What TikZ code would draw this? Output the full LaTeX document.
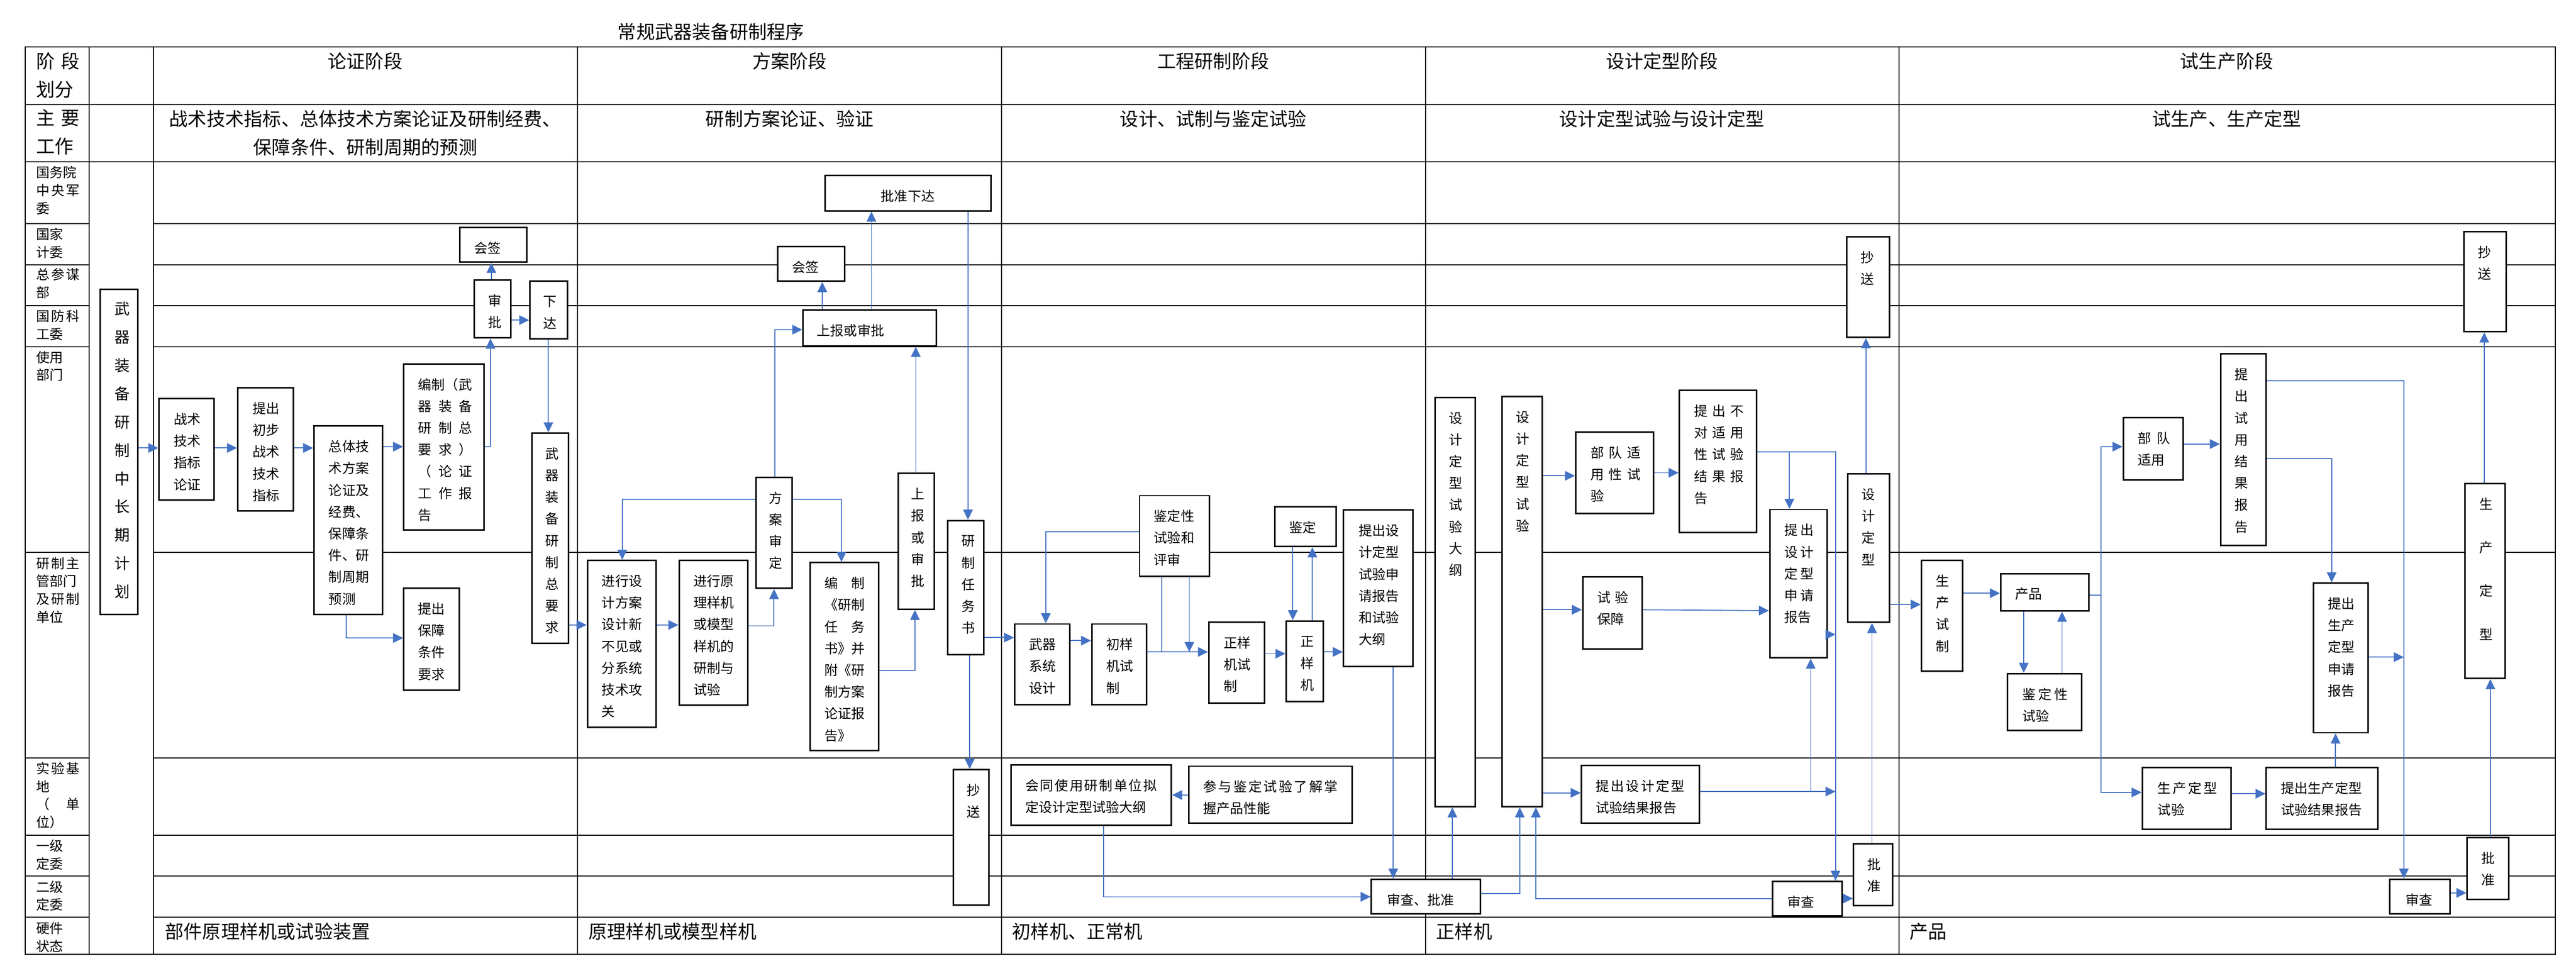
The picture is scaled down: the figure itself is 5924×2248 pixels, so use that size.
\documentclass[tikz,border=0pt]{standalone}
\usepackage{fontspec}
\setmainfont{Noto Sans CJK SC}
\usetikzlibrary{arrows.meta}

\definecolor{flowblue}{RGB}{68,114,196}

\newdimen\unitpx
\unitpx=0.01cm
\newcommand{\headfont}{\fontsize{12.2}{18.5}\selectfont}
\newcommand{\boxfont}{\fontsize{8.8}{14.2}\selectfont}
\newcommand{\labfont}{\fontsize{8.8}{11.7}\selectfont}
\newcommand{\bigboxfont}{\fontsize{10}{18.5}\selectfont}
% text of a box: [line pitch]{width}{height}{left pad}{lines}
\newcommand{\tbox}[5][50]{%
  \parbox[t][#3\unitpx][t]{#2\unitpx}{%
    \leftskip=#4\unitpx\relax
    \rightskip=0pt plus 1fil\relax
    \baselineskip=#1\unitpx\relax
    \lineskiplimit=-\maxdimen
    \rule{0pt}{59\unitpx}#5}}
% spread line
\newcommand{\jl}[2]{\makebox[#1\unitpx][s]{#2}}

\begin{document}
\begin{tikzpicture}[x = 0.01cm, y = -0.01cm,
    tabline/.style = {line width = 0.7pt},
    taskbox/.style = {draw, fill = white, line width = 1pt, inner sep = 0pt, anchor = north west, font = \boxfont},
    lab/.style = {align = left, inner sep = 0pt, anchor = west, font = \labfont},
    head/.style = {inner sep = 0pt, font = \headfont},
    flow/.style = {draw = flowblue, line width = 0.6pt, -{Triangle[length = 0.23cm, width = 0.22cm]}},
    flowline/.style = {draw = flowblue, line width = 0.6pt}]
    \useasboundingbox (0,0) rectangle (5924,2248);

    % Table
    \draw [tabline] (58,108) rectangle (5876,2194);
    \draw [tabline] (205,108) -- (205,2194);
    \draw [tabline] (353,108) -- (353,2194);
    \draw [tabline] (1328,108) -- (1328,2194);
    \draw [tabline] (2303,108) -- (2303,2194);
    \draw [tabline] (3278,108) -- (3278,2194);
    \draw [tabline] (4367,108) -- (4367,2194);
    \draw [tabline] (58,240) -- (5876,240);
    \draw [tabline] (58,372) -- (5876,372);
    \draw [tabline] (58,514) -- (205,514);   \draw [tabline] (353,514) -- (5876,514);
    \draw [tabline] (58,609) -- (205,609);   \draw [tabline] (353,609) -- (5876,609);
    \draw [tabline] (58,703) -- (205,703);   \draw [tabline] (353,703) -- (5876,703);
    \draw [tabline] (58,797) -- (205,797);   \draw [tabline] (353,797) -- (5876,797);
    \draw [tabline] (58,1270) -- (205,1270); \draw [tabline] (353,1270) -- (5876,1270);
    \draw [tabline] (58,1743) -- (205,1743); \draw [tabline] (353,1743) -- (5876,1743);
    \draw [tabline] (58,1920) -- (205,1920); \draw [tabline] (353,1920) -- (5876,1920);
    \draw [tabline] (58,2014) -- (205,2014); \draw [tabline] (353,2014) -- (5876,2014);
    \draw [tabline] (58,2109) -- (205,2109); \draw [tabline] (353,2109) -- (5876,2109);

    % Title and phases
    \node[head] (title) at (1635,73) {常规武器装备研制程序};
    \node[head] (p1) at (840,141) {论证阶段};
    \node[head] (p2) at (1816,141) {方案阶段};
    \node[head] (p3) at (2790,141) {工程研制阶段};
    \node[head] (p4) at (3822,141) {设计定型阶段};
    \node[head] (p5) at (5121,141) {试生产阶段};
    \node[head, align = center] (w1) at (840,306) {战术技术指标、总体技术方案论证及研制经费、\\保障条件、研制周期的预测};
    \node[head] (w2) at (1816,273) {研制方案论证、验证};
    \node[head] (w3) at (2790,273) {设计、试制与鉴定试验};
    \node[head] (w4) at (3822,273) {设计定型试验与设计定型};
    \node[head] (w5) at (5121,273) {试生产、生产定型};

    % Row names
    \node[lab, font = \headfont] (lstage) at (83,173) {\jl{100}{阶\hfill 段}\\划分};
    \node[lab, font = \headfont] (lwork) at (83,304) {\jl{100}{主\hfill 要}\\工作};
    \node[lab] (lgov) at (83,438) {国务院\\\jl{100}{中\hfill 央\hfill 军}\\委};
    \node[lab] (lplan) at (83,559) {国家\\计委};
    \node[lab] (lstaff) at (83,652) {\jl{100}{总\hfill 参\hfill 谋}\\部};
    \node[lab] (lcost) at (83,748) {\jl{100}{国\hfill 防\hfill 科}\\工委};
    \node[lab] (luser) at (83,842) {使用\\部门};
    \node[lab] (ldev) at (83,1357) {\jl{100}{研\hfill 制\hfill 主}\\管部门\\\jl{100}{及\hfill 研\hfill 制}\\单位};
    \node[lab] (lbase) at (83,1829) {\jl{100}{实\hfill 验\hfill 基}\\地\\\jl{100}{（\hfill 单}\\位）};
    \node[lab] (lcom1) at (83,1966) {一级\\定委};
    \node[lab] (lcom2) at (83,2060) {二级\\定委};
    \node[lab] (lhw) at (83,2155) {硬件\\状态};

    % Hardware state
    \node[head, anchor = west] (hw1) at (379,2142) {部件原理样机或试验装置};
    \node[head, anchor = west] (hw2) at (1353,2142) {原理样机或模型样机};
    \node[head, anchor = west] (hw3) at (2327,2142) {初样机、正常机};
    \node[head, anchor = west] (hw4) at (3302,2142) {正样机};
    \node[head, anchor = west] (hw5) at (4391,2142) {产品};

    % Boxes: demonstration phase
    \node[taskbox, font = \bigboxfont] (jh) at (229,663) {\tbox[65]{86}{748}{33}{武\\器\\装\\备\\研\\制\\中\\长\\期\\计\\划}};
    \node[taskbox] (zs) at (364,915) {\tbox{126}{233}{34}{战术\\技术\\指标\\论证}};
    \node[taskbox] (tc) at (545,890) {\tbox{128}{283}{34}{提出\\初步\\战术\\技术\\指标}};
    \node[taskbox] (zt) at (720,978) {\tbox{158}{433}{34}{总体技\\术方案\\论证及\\经费、\\保障条\\件、研\\制周期\\预测}};
    \node[taskbox] (bz) at (927,835) {\tbox{184}{382}{33}{编制（武\\\jl{124}{器\hfill 装\hfill 备}\\\jl{124}{研\hfill 制\hfill 总}\\\jl{124}{要\hfill 求\hfill ）}\\\jl{124}{（\hfill 论\hfill 证}\\\jl{124}{工\hfill 作\hfill 报}\\告}};
    \node[taskbox] (sp) at (1089,642) {\tbox{84}{133}{32}{审\\批}};
    \node[taskbox] (hq1) at (1056,521) {\tbox{154}{80}{33}{会签}};
    \node[taskbox] (xd) at (1217,644) {\tbox{86}{133}{31}{下\\达}};
    \node[taskbox] (zy) at (1221,994) {\tbox{85}{483}{31}{武\\器\\装\\备\\研\\制\\总\\要\\求}};
    \node[taskbox] (bzyq) at (927,1351) {\tbox{128}{234}{33}{提出\\保障\\条件\\要求}};

    % Boxes: scheme phase
    \node[taskbox] (pz) at (1896,402) {\tbox{381}{81}{128}{批准下达}};
    \node[taskbox] (hq2) at (1787,565) {\tbox{154}{80}{33}{会签}};
    \node[taskbox] (sbh) at (1845,711) {\tbox{307}{83}{32}{上报或审批}};
    \node[taskbox] (fasd) at (1737,1096) {\tbox{83}{255}{30}{方\\案\\审\\定}};
    \node[taskbox] (jxsj) at (1349,1287) {\tbox{158}{383}{33}{进行设\\计方案\\设计新\\不见或\\分系统\\技术攻\\关}};
    \node[taskbox] (jxyl) at (1560,1287) {\tbox{158}{333}{33}{进行原\\理样机\\或模型\\样机的\\研制与\\试验}};
    \node[taskbox] (bzrw) at (1861,1292) {\tbox{158}{432}{33}{\jl{93}{编\hfill 制}\\《研制\\\jl{93}{任\hfill 务}\\书》并\\附《研\\制方案\\论证报\\告》}};
    \node[taskbox] (sbv) at (2064,1087) {\tbox{83}{312}{30}{上\\报\\或\\审\\批}};
    \node[taskbox] (rws) at (2178,1195) {\tbox{83}{309}{32}{研\\制\\任\\务\\书}};
    \node[taskbox] (cs1) at (2191,1768) {\tbox{82}{311}{31}{抄\\送}};

    % Boxes: engineering phase
    \node[taskbox] (wqxt) at (2332,1433) {\tbox{127}{185}{33}{武器\\系统\\设计}};
    \node[taskbox] (cysz) at (2509,1433) {\tbox{126}{185}{33}{初样\\机试\\制}};
    \node[taskbox] (jdps) at (2619,1138) {\tbox{160}{185}{33}{鉴定性\\试验和\\评审}};
    \node[taskbox] (hts) at (2323,1757) {\tbox{369}{139}{33}{\jl{303}{会\hfill 同\hfill 使\hfill 用\hfill 研\hfill 制\hfill 单\hfill 位\hfill 拟}\\定设计定型试验大纲}};
    \node[taskbox] (zyjs) at (2778,1429) {\tbox{128}{186}{35}{正样\\机试\\制}};
    \node[taskbox] (zyj) at (2956,1426) {\tbox{85}{185}{33}{正\\样\\机}};
    \node[taskbox] (jd) at (2930,1164) {\tbox{141}{91}{33}{鉴定}};
    \node[taskbox] (tcsq) at (3088,1171) {\tbox{159}{360}{35}{提出设\\计定型\\试验申\\请报告\\和试验\\大纲}};
    \node[taskbox] (cb) at (2732,1760) {\tbox{376}{131}{33}{\jl{310}{参\hfill 与\hfill 鉴\hfill 定\hfill 试\hfill 验\hfill 了\hfill 解\hfill 掌}\\握产品性能}};
    \node[taskbox] (scpz) at (3152,2020) {\tbox{251}{80}{36}{审查、批准}};

    % Boxes: design finalisation phase
    \node[taskbox] (dg) at (3299,912) {\tbox{92}{941}{31}{设\\计\\定\\型\\试\\验\\大\\纲}};
    \node[taskbox] (dsy) at (3452,910) {\tbox{93}{943}{32}{设\\计\\定\\型\\试\\验}};
    \node[taskbox] (bdsy) at (3622,992) {\tbox{179}{187}{34}{\jl{115}{部\hfill 队\hfill 适}\\\jl{115}{用\hfill 性\hfill 试}\\验}};
    \node[taskbox] (btc) at (3860,896) {\tbox{178}{327}{34}{\jl{114}{提\hfill 出\hfill 不}\\\jl{114}{对\hfill 适\hfill 用}\\\jl{114}{性\hfill 试\hfill 验}\\\jl{114}{结\hfill 果\hfill 报}\\告}};
    \node[taskbox] (sybz) at (3638,1325) {\tbox{137}{166}{34}{\jl{71}{试\hfill 验}\\保障}};
    \node[taskbox] (jgbg) at (3635,1758) {\tbox{271}{133}{33}{\jl{204}{提\hfill 出\hfill 设\hfill 计\hfill 定\hfill 型}\\试验结果报告}};
    \node[taskbox] (dxsq) at (4068,1170) {\tbox{132}{341}{34}{\jl{67}{提\hfill 出}\\\jl{67}{设\hfill 计}\\\jl{67}{定\hfill 型}\\\jl{67}{申\hfill 请}\\报告}};
    \node[taskbox] (dx) at (4248,1088) {\tbox{95}{341}{32}{设\\计\\定\\型}};
    \node[taskbox] (cs2) at (4245,543) {\tbox{98}{231}{32}{抄\\送}};
    \node[taskbox] (pz2) at (4261,1938) {\tbox{89}{143}{32}{批\\准}};
    \node[taskbox] (sc2) at (4074,2025) {\tbox{161}{79}{35}{审查}};

    % Boxes: trial production phase
    \node[taskbox] (scsz) at (4417,1287) {\tbox{95}{254}{33}{生\\产\\试\\制}};
    \node[taskbox] (cp) at (4599,1317) {\tbox{203}{86}{33}{产品}};
    \node[taskbox] (jdx) at (4615,1547) {\tbox{170}{131}{34}{\jl{105}{鉴\hfill 定\hfill 性}\\试验}};
    \node[taskbox] (bdsy2) at (4881,959) {\tbox{138}{143}{33}{\jl{75}{部\hfill 队}\\适用}};
    \node[taskbox] (syjg) at (5105,812) {\tbox{105}{440}{32}{提\\出\\试\\用\\结\\果\\报\\告}};
    \node[taskbox] (scdx) at (4925,1763) {\tbox{204}{142}{35}{\jl{137}{生\hfill 产\hfill 定\hfill 型}\\试验}};
    \node[taskbox] (scjg) at (5210,1763) {\tbox{257}{142}{34}{提出生产定型\\试验结果报告}};
    \node[taskbox] (scsq) at (5318,1339) {\tbox{126}{344}{34}{提出\\生产\\定型\\申请\\报告}};
    \node[taskbox] (sc3) at (5494,2020) {\tbox{139}{80}{36}{审查}};
    \node[taskbox] (pz3) at (5672,1924) {\tbox{95}{142}{33}{批\\准}};
    \node[taskbox] (scdx2) at (5667,1110) {\tbox[100]{92}{448}{33}{生\\产\\定\\型}};
    \node[taskbox] (cs3) at (5665,531) {\tbox{97}{230}{32}{抄\\送}};

    % Junctions on shared lines
    \coordinate (jn1) at (2672,1499);
    \coordinate (jn2) at (2735,1499);
    \coordinate (bus1) at (4221,1039);
    \coordinate (bus2) at (4221,1820);
    \coordinate (bus3) at (4221,1459);
    \coordinate (tap1) at (4164,1820);
    \coordinate (tap2) at (4115,1039);
    \coordinate (tap3) at (4832,1368);
    \coordinate (bus4) at (5528,1511);

    % Flow: demonstration phase
    \draw [flow] (jh.east |- 0,1030) -- (zs.west |- 0,1030);
    \draw [flow] (zs.east |- 0,1030) -- (tc.west |- 0,1030);
    \draw [flow] (tc.east |- 0,1030) -- (zt.west |- 0,1030);
    \draw [flow] (zt.east |- 0,1027) -- (bz.west |- 0,1027);
    \draw [flow] (bz.east |- 0,1027) -| (sp.south -| 1128,0);
    \draw [flow] (sp.north -| 1130,0) -- (hq1.south -| 1130,0);
    \draw [flow] (sp.east |- 0,736) -- (xd.west |- 0,736);
    \draw [flow] (xd.south -| 1261,0) -- (zy.north -| 1261,0);
    \draw [flow] (zt.south -| 796,0) |- (bzyq.west |- 0,1467);
    \draw [flow] (zy.east |- 0,1437) -- (jxsj.west |- 0,1437);

    % Flow: scheme phase
    \draw [flow] (jxsj.east |- 0,1437) -- (jxyl.west |- 0,1437);
    \draw [flow] (jxyl.east |- 0,1439) -| (fasd.south -| 1780,0);
    \draw [flow] (fasd.west |- 0,1148) -| (jxsj.north -| 1431,0);
    \draw [flow] (fasd.east |- 0,1148) -| (bzrw.north -| 1935,0);
    \draw [flow] (fasd.north -| 1782,0) |- (sbh.west |- 0,758);
    \draw [flow] (sbh.north -| 1891,0) -- (hq2.south -| 1891,0);
    \draw [flow] (sbh.north -| 2004,0) -- (pz.south -| 2004,0);
    \draw [flow] (sbv.north -| 2106,0) -- (sbh.south -| 2106,0);
    \draw [flow] (bzrw.east |- 0,1541) -| (sbv.south -| 2104,0);
    \draw [flow] (pz.south -| 2226,0) -- (rws.north -| 2226,0);
    \draw [flow] (rws.east |- 0,1466) -- (wqxt.west |- 0,1466);
    \draw [flow] (rws.south -| 2230,0) -- (cs1.north -| 2230,0);

    % Flow: engineering phase
    \draw [flow] (wqxt.east |- 0,1473) -- (cysz.west |- 0,1473);
    \draw [flow] (jdps.west |- 0,1223) -| (wqxt.north -| 2405,0);
    \draw [flow] (cysz.east |- 0,1499) -- (zyjs.west |- 0,1499);
    \draw [flowline] (jdps.south -| jn1) -- (jn1);
    \draw [flow] (jdps.south -| jn2) -- (jn2);
    \draw [flow] (zyjs.east |- 0,1503) -- (zyj.west |- 0,1503);
    \draw [flow] (jd.south -| 2973,0) -- (zyj.north -| 2973,0);
    \draw [flow] (zyj.north -| 3018,0) -- (jd.south -| 3018,0);
    \draw [flow] (zyj.east |- 0,1499) -- (tcsq.west |- 0,1499);
    \draw [flow] (tcsq.south -| 3204,0) -- (scpz.north -| 3204,0);
    \draw [flow] (cb.west |- 0,1828) -- (hts.east |- 0,1828);
    \draw [flow] (hts.south -| 2538,0) |- (scpz.west |- 0,2062);

    % Flow: design finalisation phase
    \draw [flow] (scpz.north -| 3340,0) -- (dg.south -| 3340,0);
    \draw [flow] (scpz.east |- 0,2054) -| (dsy.south -| 3495,0);
    \draw [flow] (sc2.west |- 0,2066) -| (dsy.south -| 3532,0);
    \draw [flow] (dsy.east |- 0,1094) -- (bdsy.west |- 0,1094);
    \draw [flow] (bdsy.east |- 0,1087) -- (btc.west |- 0,1087);
    \draw [flow] (dsy.east |- 0,1402) -- (sybz.west |- 0,1402);
    \draw [flow] (sybz.east |- 0,1402) -- (dxsq.west |- 0,1404);
    \draw [flow] (dsy.east |- 0,1823) -- (jgbg.west |- 0,1823);
    \draw [flow] (jgbg.east |- bus2) -- (bus2);
    \draw [flow] (tap1) -- (dxsq.south -| tap1);
    \draw [flow] (btc.east |- bus1) -- (bus1) -- (sc2.north -| bus1);
    \draw [flow] (tap2) -- (dxsq.north -| tap2);
    \draw [flow] (dxsq.east |- bus3) -- (bus3);
    \draw [flow] (sc2.east |- 0,2066) -- (pz2.west |- 0,2066);
    \draw [flow] (pz2.north -| 4305,0) -- (dx.south -| 4305,0);
    \draw [flow] (dx.north -| 4291,0) -- (cs2.south -| 4291,0);

    % Flow: trial production phase
    \draw [flow] (dx.east |- 0,1390) -- (scsz.west |- 0,1390);
    \draw [flow] (scsz.east |- 0,1364) -- (cp.west |- 0,1364);
    \draw [flow] (cp.south -| 4654,0) -- (jdx.north -| 4654,0);
    \draw [flow] (jdx.north -| 4742,0) -- (cp.south -| 4742,0);
    \draw [flowline] (cp.east |- tap3) -- (tap3);
    \draw [flow] (tap3) |- (bdsy2.west |- 0,1027);
    \draw [flow] (tap3) |- (scdx.west |- 0,1822);
    \draw [flow] (bdsy2.east |- 0,1021) -- (syjg.west |- 0,1021);
    \draw [flow] (syjg.east |- 0,876) -| (sc3.north -| bus4);
    \draw [flow] (syjg.east |- 0,1054) -| (scsq.north -| 5362,0);
    \draw [flow] (scsq.east |- bus4) -- (bus4);
    \draw [flow] (scdx.east |- 0,1825) -- (scjg.west |- 0,1825);
    \draw [flow] (scjg.north -| 5371,0) -- (scsq.south -| 5371,0);
    \draw [flow] (sc3.east |- 0,2053) -- (pz3.west |- 0,2053);
    \draw [flow] (pz3.north -| 5727,0) -- (scdx2.south -| 5727,0);
    \draw [flow] (scdx2.north -| 5713,0) -- (cs3.south -| 5713,0);
\end{tikzpicture}
\end{document}
